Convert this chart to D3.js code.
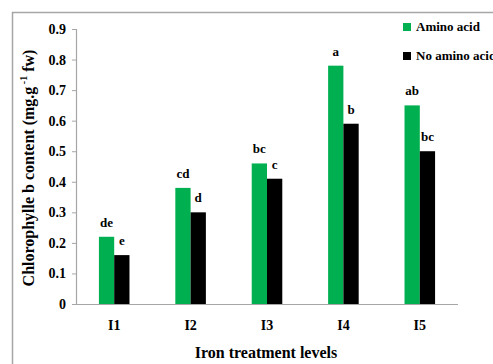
<!DOCTYPE html>
<html>
<head>
<meta charset="utf-8">
<script src="https://cdn.jsdelivr.net/npm/d3@7"></script>
<style>
  body { margin: 0; background: #fff; }
  svg text { font-family: "Liberation Serif", "Times New Roman", serif; font-weight: bold; fill: #000; }
</style>
</head>
<body>
<div id="chart"></div>
<script>
var categories = ["I1", "I2", "I3", "I4", "I5"];
var seriesNames = ["Amino acid", "No amino acid"];
var aminoValues = [0.22, 0.38, 0.46, 0.78, 0.65];
var noAminoValues = [0.16, 0.30, 0.41, 0.59, 0.50];
var aminoLetters = ["de", "cd", "bc", "a", "ab"];
var noAminoLetters = ["e", "d", "c", "b", "bc"];
var yTicks = [0, 0.1, 0.2, 0.3, 0.4, 0.5, 0.6, 0.7, 0.8, 0.9];
var colors = ["#00b050", "#000000"];

var width = 493, height = 364;
var margin = { top: 29, right: 35, bottom: 60, left: 76 };

var svg = d3.select("#chart").append("svg")
  .attr("width", width)
  .attr("height", height);

// outer frame (only left and top show in the picture)
svg.append("path")
  .attr("d", "M12.5," + height + "V12.5H" + width)
  .attr("fill", "none")
  .attr("stroke", "#a6a6a6")
  .attr("stroke-width", 1.5);

var x0 = d3.scaleBand()
  .domain(categories)
  .range([margin.left, width - margin.right])
  .paddingInner(0.6)
  .paddingOuter(0.3);

var x1 = d3.scaleBand()
  .domain([0, 1])
  .range([0, x0.bandwidth()]);

var y = d3.scaleLinear()
  .domain([0, 0.9])
  .range([height - margin.bottom, margin.top]);

// y axis
var yAxis = svg.append("g")
  .attr("transform", "translate(" + margin.left + ",0)")
  .call(d3.axisLeft(y).tickValues(yTicks).tickSize(4).tickPadding(6)
    .tickFormat(function(d) { return d === 0 ? "0" : d3.format(".1f")(d); }));
yAxis.select(".domain").attr("stroke", "#a6a6a6").attr("stroke-width", 1.2);
yAxis.selectAll(".tick line").attr("stroke", "#a6a6a6");
yAxis.selectAll("text").style("font-size", "14px").attr("fill", "#000");

// bars
var groups = svg.append("g").selectAll("g")
  .data(categories)
  .enter().append("g")
  .attr("transform", function(d) { return "translate(" + x0(d) + ",0)"; });

var series = [aminoValues, noAminoValues];
var letters = [aminoLetters, noAminoLetters];

groups.selectAll("rect")
  .data(function(d, i) { return [0, 1].map(function(s) { return { s: s, v: series[s][i], l: letters[s][i] }; }); })
  .enter().append("rect")
  .attr("x", function(d) { return x1(d.s); })
  .attr("y", function(d) { return y(d.v); })
  .attr("width", x1.bandwidth())
  .attr("height", function(d) { return y(0) - y(d.v); })
  .attr("fill", function(d) { return colors[d.s]; });

groups.selectAll(".sig")
  .data(function(d, i) { return [0, 1].map(function(s) { return { s: s, v: series[s][i], l: letters[s][i] }; }); })
  .enter().append("text")
  .attr("class", "sig")
  .attr("x", function(d) { return x1(d.s) + x1.bandwidth() / 2; })
  .attr("y", function(d) { return y(d.v) - 10; })
  .attr("text-anchor", "middle")
  .style("font-size", "13px")
  .text(function(d) { return d.l; });

// x axis
var xAxis = svg.append("g")
  .attr("transform", "translate(0," + y(0) + ")")
  .call(d3.axisBottom(x0).tickSize(0).tickPadding(16));
xAxis.select(".domain").attr("stroke", "#a6a6a6").attr("stroke-width", 1.2)
  .attr("d", "M" + margin.left + ",0.5H" + (width - margin.right));
xAxis.selectAll("text").style("font-size", "14px").attr("fill", "#000");

// axis titles
svg.append("text")
  .attr("x", 266)
  .attr("y", 358)
  .attr("text-anchor", "middle")
  .style("font-size", "16px")
  .text("Iron treatment levels");

var yt = svg.append("text")
  .attr("transform", "translate(34,168) rotate(-90)")
  .attr("text-anchor", "middle")
  .style("font-size", "16px");
yt.append("tspan").text("Chlorophylle b content (mg.g");
yt.append("tspan").attr("dy", -7).style("font-size", "10px").text(" -1");
yt.append("tspan").attr("dy", 7).text(" fw)");

// legend
var legend = svg.append("g").selectAll("g")
  .data(seriesNames)
  .enter().append("g")
  .attr("transform", function(d, i) { return "translate(403," + (23 + i * 29) + ")"; });
legend.append("rect")
  .attr("width", 8)
  .attr("height", 8)
  .attr("fill", function(d, i) { return colors[i]; });
legend.append("text")
  .attr("x", 13)
  .attr("y", 8)
  .style("font-size", "13px")
  .text(function(d) { return d; });
</script>
</body>
</html>
